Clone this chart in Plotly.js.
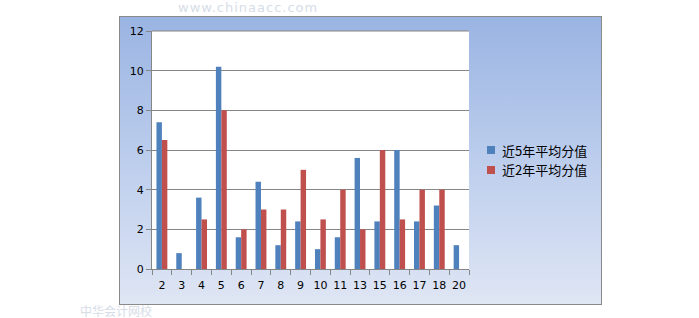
<!DOCTYPE html>
<html>
<head>
<meta charset="utf-8">
<script src="https://cdn.plot.ly/plotly-3.0.1.min.js"></script>
<style>
  html, body { margin:0; padding:0; background:#ffffff; width:699px; height:318px; overflow:hidden; }
  #frame { position:absolute; left:119px; top:16px; width:481px; height:287px;
           border:1px solid #8a8a8a;
           background:linear-gradient(to bottom, #9ab4e2 0%, #b9cbec 45%, #dfe6f4 100%); }
  .wm { position:absolute; color:#d6dde7; font-family:"DejaVu Sans", sans-serif; white-space:nowrap; line-height:1; }
  #chart { position:absolute; left:0; top:0; width:699px; height:318px; }
</style>
</head>
<body>
<div class="wm" style="left:178px; top:1px; font-size:13px; letter-spacing:1px;">www.chinaacc.com</div>
<div class="wm" style="left:80px; top:305px; font-size:12px; font-family:'Noto Sans CJK SC';">中华会计网校</div>
<div id="frame"></div>
<div id="chart"></div>
<script>
const categories = ["2","3","4","5","6","7","8","9","10","11","13","15","16","17","18","20"];
const avg5 = [7.4, 0.8, 3.6, 10.2, 1.6, 4.4, 1.2, 2.4, 1.0, 1.6, 5.6, 2.4, 6.0, 2.4, 3.2, 1.2];
const avg2 = [6.5, 0, 2.5, 8, 2, 3, 3, 5, 2.5, 4, 2, 6, 2.5, 4, 4, 0];
const seriesNames = ["近5年平均分值", "近2年平均分值"];
const seriesColors = ['#4f81bd', '#c0504d'];
const yTicks = [0, 2, 4, 6, 8, 10, 12];

const traces = [
  { type:'bar', x:categories, y:avg5, name:seriesNames[0], marker:{color:seriesColors[0]} },
  { type:'bar', x:categories, y:avg2, name:seriesNames[1], marker:{color:seriesColors[1]} }
];

// legend drawn manually (container pixel coordinates)
const W = 699, H = 318;
const legendRows = [150, 170];
const shapes = [
  {type:'line', xref:'paper', yref:'paper', x0:0, x1:1, y0:1, y1:1, line:{color:'#868686', width:1}}
];
const annotations = [];
seriesNames.forEach((nm, i) => {
  const cy = legendRows[i];
  shapes.push({type:'rect', xref:'paper', yref:'paper',
    x0:(487-152)/317, x1:(495-152)/317,
    y0:(269-(cy+4))/238, y1:(269-(cy-4))/238,
    fillcolor:seriesColors[i], line:{width:0}});
  annotations.push({xref:'paper', yref:'paper', x:(500-152)/317, y:(269-cy)/238,
    xanchor:'left', yanchor:'middle', showarrow:false, text:nm,
    font:{family:'"Noto Sans CJK SC", sans-serif', size:13, color:'#000000'}});
});

const layout = {
  width:W, height:H,
  margin:{l:152, r:230, t:31, b:49, pad:0},
  paper_bgcolor:'rgba(0,0,0,0)',
  plot_bgcolor:'#ffffff',
  barmode:'group',
  bargap:0.45,
  bargroupgap:0,
  font:{family:'"DejaVu Sans", Tahoma, sans-serif', size:11, color:'#000000'},
  xaxis:{
    type:'category', showgrid:false, zeroline:false,
    showline:true, linecolor:'#868686', linewidth:1,
    ticks:'outside', tickson:'boundaries', ticklen:5, tickcolor:'#868686',
    ticklabelstandoff:6,
    tickangle:0, tickfont:{size:11}, fixedrange:true
  },
  yaxis:{
    range:[0,12], tickvals:yTicks, ticktext:yTicks.map(String),
    showgrid:true, gridcolor:'#868686', gridwidth:1, zeroline:false,
    showline:true, linecolor:'#868686', linewidth:1,
    ticks:'outside', ticklen:5, tickcolor:'#868686',
    tickfont:{size:11}, fixedrange:true
  },
  showlegend:false,
  shapes:shapes,
  annotations:annotations
};

Plotly.newPlot('chart', traces, layout, {displayModeBar:false, staticPlot:true});
</script>
</body>
</html>
